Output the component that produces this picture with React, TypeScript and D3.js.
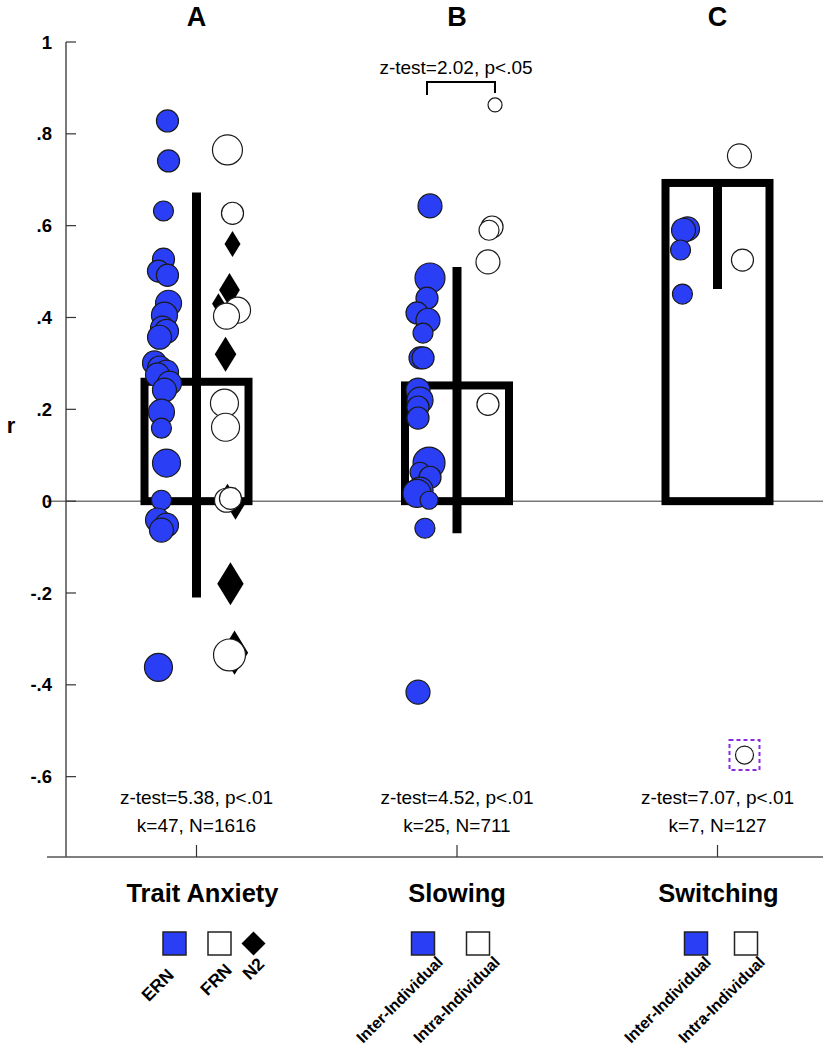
import React from "react";
import * as d3 from "d3";

// ---------- DATA ----------
const panels = ["A", "B", "C"];
const categories = ["Trait Anxiety", "Slowing", "Switching"];
const barMeans = [0.26, 0.252, 0.693];
const ciLower = [-0.21, -0.07, 0.462];
const ciUpper = [0.672, 0.51, 0.7];
const zTests = ["z-test=5.38, p<.01", "z-test=4.52, p<.01", "z-test=7.07, p<.01"];
const kN = ["k=47, N=1616", "k=25, N=711", "k=7, N=127"];
const pairTest = "z-test=2.02, p<.05";
const yTicks = [1, 0.8, 0.6, 0.4, 0.2, 0, -0.2, -0.4, -0.6];
const yTickLabels = ["1", ".8", ".6", ".4", ".2", "0", "-.2", "-.4", "-.6"];

// [r, weight, jitter]
const traitERN: number[][] = [
  [0.828, 72, 0.33], [0.741, 72, 0.42], [0.632, 59, 0], [0.527, 72, 0], [0.501, 72, -0.42],
  [0.492, 72, 0.33], [0.431, 100, 0.42], [0.405, 100, 0.08], [0.377, 85, -0.08], [0.37, 85, 0.25],
  [0.357, 85, -0.33], [0.301, 85, -0.75], [0.29, 85, -0.33], [0.281, 85, 0.25], [0.275, 85, -0.5],
  [0.257, 85, 0.5], [0.242, 85, 0.08], [0.194, 100, -0.17], [0.159, 59, -0.17], [0.083, 116, 0.25],
  [0.002, 59, -0.17], [-0.041, 85, -0.5], [-0.052, 85, 0.25], [-0.063, 85, -0.17], [-0.362, 116, -0.42],
];
const traitFRN: number[][] = [
  [0.765, 133, -0.17], [0.627, 72, 0.25], [0.416, 100, 0.67], [0.403, 100, -0.25], [0.2135, 116, -0.42],
  [0.161, 116, -0.33], [0.002, 85, -0.25], [0.006, 72, 0.08], [-0.335, 151, 0],
];
const traitN2: number[][] = [
  [0.56, 59, 0.25], [0.46, 100, 0], [0.43, 38, -0.92], [0.32, 108, -0.33], [0.008, 65, -0.17],
  [-0.005, 92, 0.5], [-0.18, 161, 0.08], [-0.33, 171, 0.42],
];
const slowingInter: number[][] = [
  [0.643, 85, 0.5], [0.486, 133, 0.5], [0.442, 72, 0.25], [0.41, 72, -0.58], [0.394, 85, 0.33],
  [0.366, 59, -0.08], [0.312, 72, -0.33], [0.312, 72, -0.08], [0.242, 85, -0.5], [0.22, 100, -0.33],
  [0.205, 72, -0.5], [0.181, 72, -0.5], [0.083, 151, 0.42], [0.063, 59, -0.33], [0.052, 72, 0.5],
  [0.024, 100, -0.33], [0.017, 116, -0.58], [0.002, 48, 0.42], [-0.059, 59, 0.08], [-0.416, 85, -0.5],
];
const slowingIntra: number[][] = [
  [0.863, 29, 0.42], [0.597, 72, 0.17], [0.59, 59, -0.08], [0.521, 85, -0.17], [0.211, 72, -0.17],
];
const switchingInter: number[][] = [
  [0.593, 85, 0.25], [0.59, 85, -0.08], [0.547, 59, -0.33], [0.451, 59, -0.17],
];
const switchingIntra: number[][] = [
  [0.752, 85, -0.92], [0.525, 72, -0.67], [-0.553, 48, -0.5],
];
const outlierIndex = 2; // flagged intra-individual switching point

const legendTrait = ["ERN", "FRN", "N2"];
const legendOther = ["Inter-Individual", "Intra-Individual"];

// ---------- STYLE ----------
const BLUE = "#2a3ff5";
const FONT = "'Liberation Sans Narrow', 'Liberation Sans', Arial, sans-serif";
const BOLD = "'Liberation Sans', Arial, sans-serif";

export default function App() {
  const W = 823, H = 1050;
  const y = d3.scaleLinear().domain([-0.775, 1]).range([857, 42]);
  const x = d3.scalePoint<string>().domain(panels).range([196.5, 717.5]);
  const sub = d3.scalePoint<string>().domain(["inter", "intra"]).range([-33, 33]);
  const jit = d3.scaleLinear().domain([-1, 1]).range([-12, 12]);
  const rad = d3.scaleSqrt().domain([0, 100]).range([0, 13]);
  const barHalf = 52;

  const circles = (pts: number[][], cx: number, fill: string, key: string) =>
    pts.map((p, i) => (
      <circle key={key + i} cx={cx + jit(p[2])} cy={y(p[0])} r={rad(p[1])}
        fill={fill} stroke="#1a1a1a" strokeWidth={1.2} />
    ));
  const diamonds = (pts: number[][], cx: number, key: string) =>
    pts.map((p, i) => {
      const r = rad(p[1]);
      const px = cx + jit(p[2]), py = y(p[0]);
      const hw = r * 0.8, hh = r * 1.3;
      return (
        <path key={key + i} d={`M${px},${py - hh}L${px + hw},${py}L${px},${py + hh}L${px - hw},${py}Z`}
          fill="#000" />
      );
    });

  const cA = x("A")!, cB = x("B")!, cC = x("C")!;
  const centers = [cA, cB, cC];
  const catShift = [6, 0, 1];
  const out = switchingIntra[outlierIndex];
  const outX = cC + sub("intra")! + jit(out[2]);
  const outY = y(out[0]);

  return (
    <svg width={W} height={H} style={{ position: "absolute", left: 0, top: 0, background: "#fff" }}>
      {/* zero line */}
      <line x1={47} x2={W} y1={y(0)} y2={y(0)} stroke="#777" strokeWidth={1.5} />
      {/* y axis */}
      <line x1={66} x2={66} y1={y(1)} y2={857} stroke="#333" strokeWidth={1.3} />
      {yTicks.map((t, i) => (
        <g key={"yt" + i}>
          <line x1={66} x2={76} y1={y(t)} y2={y(t)} stroke="#333" strokeWidth={1.2} />
          <text x={52} y={y(t)} dy="0.36em" textAnchor="end" fontFamily={BOLD} fontWeight="bold" fontSize={18.5}>
            {yTickLabels[i]}
          </text>
        </g>
      ))}
      <text x={11} y={425} dy="0.36em" textAnchor="middle" fontFamily={BOLD} fontWeight="bold" fontSize={22}>r</text>
      {/* bottom axis */}
      <line x1={47} x2={W} y1={857} y2={857} stroke="#555" strokeWidth={1.5} />
      {centers.map((c, i) => (
        <line key={"xt" + i} x1={c} x2={c} y1={857} y2={845} stroke="#333" strokeWidth={1.2} />
      ))}

      {/* panel titles */}
      {panels.map((p, i) => (
        <text key={"pt" + i} x={centers[i]} y={26} textAnchor="middle" fontFamily={BOLD} fontWeight="bold" fontSize={27}>{p}</text>
      ))}

      {/* bars */}
      {centers.map((c, i) => (
        <g key={"bar" + i}>
          <rect x={c - barHalf} y={y(barMeans[i])} width={barHalf * 2} height={y(0) - y(barMeans[i])}
            fill="none" stroke="#000" strokeWidth={8} />
          <line x1={c} x2={c} y1={y(ciUpper[i])} y2={y(ciLower[i])} stroke="#000" strokeWidth={9} />
        </g>
      ))}

      {/* points */}
      {diamonds(traitN2, cA + sub("intra")!, "n2")}
      {circles(traitFRN, cA + sub("intra")!, "#fff", "frn")}
      {circles(traitERN, cA + sub("inter")!, BLUE, "ern")}
      {circles(slowingIntra, cB + sub("intra")!, "#fff", "si")}
      {circles(slowingInter, cB + sub("inter")!, BLUE, "sn")}
      {circles(switchingIntra, cC + sub("intra")!, "#fff", "wi")}
      {circles(switchingInter, cC + sub("inter")!, BLUE, "wn")}

      {/* outlier box */}
      <rect x={outX - 15} y={outY - 15} width={30} height={30} fill="none" stroke="#8a2be2" strokeWidth={2} strokeDasharray="4,3" />

      {/* pairwise bracket */}
      <text x={cB - 1} y={74} textAnchor="middle" fontFamily={FONT} fontSize={19}>{pairTest}</text>
      <path d={`M${cB - 30},95V82H${cB + 38}V93`} fill="none" stroke="#000" strokeWidth={2} />

      {/* stats */}
      {centers.map((c, i) => (
        <g key={"st" + i}>
          <text x={c} y={804} textAnchor="middle" fontFamily={FONT} fontSize={19}>{zTests[i]}</text>
          <text x={c} y={832} textAnchor="middle" fontFamily={FONT} fontSize={19}>{kN[i]}</text>
        </g>
      ))}

      {/* category labels */}
      {centers.map((c, i) => (
        <text key={"cat" + i} x={c + catShift[i]} y={902} textAnchor="middle" fontFamily={FONT} fontWeight="bold" fontSize={25.5}>{categories[i]}</text>
      ))}

      {/* legends */}
      {(() => {
        const s = 23, top = 932;
        const items: JSX.Element[] = [];
        // Trait anxiety
        const tOff = [-22, 23];
        const tFill = [BLUE, "#fff"];
        tOff.forEach((o, j) => items.push(
          <rect key={"tl" + j} x={cA + o - s / 2} y={top} width={s} height={s} fill={tFill[j]} stroke="#222" strokeWidth={1.5} />
        ));
        const dx = cA + 57, dy = top + s / 2;
        items.push(<path key="tld" d={`M${dx},${dy - 12}L${dx + 12},${dy}L${dx},${dy + 12}L${dx - 12},${dy}Z`} fill="#000" />);
        const tEnds = [[cA - 21.5, 976], [cA + 36.5, 971], [cA + 69, 965]];
        legendTrait.forEach((l, j) => items.push(
          <text key={"tlt" + j} transform={`translate(${tEnds[j][0]},${tEnds[j][1]}) rotate(-45)`} textAnchor="end"
            fontFamily={BOLD} fontWeight="bold" fontSize={17.5}>{l}</text>
        ));
        // Slowing & switching
        const offs = [[-34, 21], [-21.5, 28.5]];
        const ends = [[[cB - 13, 963], [cB + 44, 963]], [[cC - 5.5, 963], [cC + 48.5, 963]]];
        [cB, cC].forEach((c, k) => {
          offs[k].forEach((o, j) => items.push(
            <rect key={"ol" + k + j} x={c + o - s / 2} y={top} width={s} height={s} fill={j === 0 ? BLUE : "#fff"} stroke="#222" strokeWidth={1.5} />
          ));
          legendOther.forEach((l, j) => items.push(
            <text key={"olt" + k + j} transform={`translate(${ends[k][j][0]},${ends[k][j][1]}) rotate(-45)`} textAnchor="end"
              fontFamily={BOLD} fontWeight="bold" fontSize={16}>{l}</text>
          ));
        });
        return items;
      })()}
    </svg>
  );
}
